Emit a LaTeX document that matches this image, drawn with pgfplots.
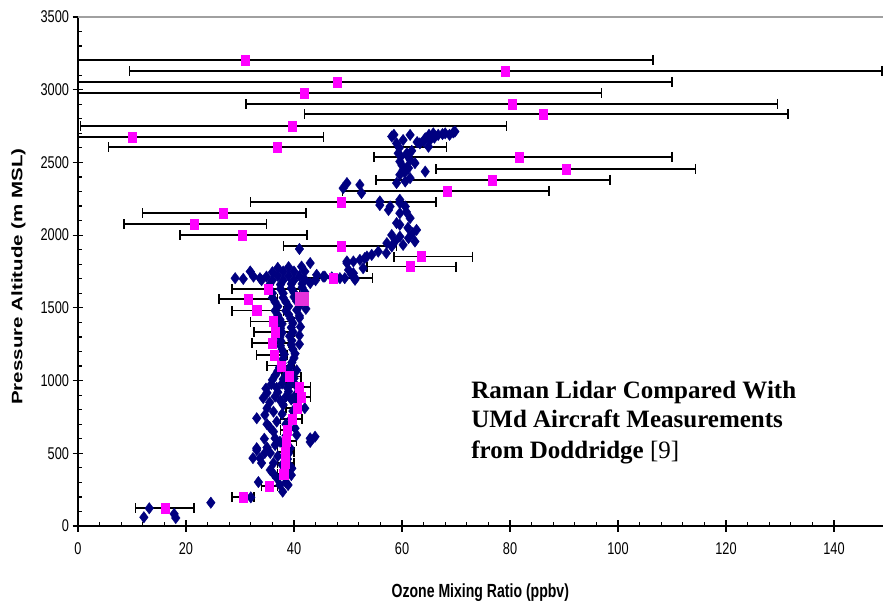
\documentclass[border=0pt]{standalone}
\usepackage{fontspec}
\setmainfont{Liberation Sans}
\newfontfamily\timesfont{Liberation Serif}
\usepackage{graphicx}
\usepackage{pgfplots}
\usepackage{pgfplotstable}
\pgfplotsset{compat=1.18}
\definecolor{navy}{RGB}{0,0,128}
\definecolor{mag}{RGB}{255,0,255}
\definecolor{mag2}{RGB}{230,50,220}
\definecolor{topgray}{RGB}{160,160,160}

\pgfplotstableread{
x y lo hi
30.9 3205 0 106.5
79.1 3129 9.6 148.9
48.0 3054 0 110.0
41.9 2978 0 96.9
80.4 2902 31.1 129.6
86.1 2834 42.0 131.5
39.6 2751 0.5 79.4
10.0 2675 0 45.5
36.9 2607 5.6 68.3
81.7 2538 54.8 110.0
90.4 2455 66.3 114.4
76.7 2380 55.2 98.5
68.3 2304 49.0 87.2
48.7 2228 31.9 66.3
26.9 2153 12.0 42.2
21.5 2077 8.5 34.9
30.4 2001 18.9 42.4
48.7 1926 38.1 59.0
63.5 1852 58.5 73.0
61.5 1783 53.5 70.0
47.2 1706 40.0 54.6
35.2 1630 28.5 41.0
31.5 1561 26.1 37.0
33.1 1481 28.5 38.0
36.1 1405 31.9 40.0
36.5 1334 32.6 40.0
35.9 1259 32.2 39.1
36.3 1176 33.0 38.7
37.6 1102 35.0 40.0
39.1 1027 37.8 41.3
40.9 956 38.5 43.1
41.3 887 38.5 43.1
40.6 812 38.5 42.0
39.6 736 37.5 41.5
38.7 660 37.5 40.5
38.5 585 37.0 40.5
38.3 509 37.0 40.0
38.3 433 37.0 40.0
38.1 358 37.0 39.5
35.4 275 34.0 37.0
30.6 199 28.5 32.6
16.1 124 10.7 21.5
}\lidar

\pgfplotstableread{
x y
12.2 60
13.2 122
17.8 83
18.1 55
24.6 160
32.0 197
37.9 236
33.4 302
37.4 282
38.9 282
36.8 330
35.6 385
36.1 364
39.6 397
39.3 406
32.4 467
33.7 466
34.0 433
36.2 433
33.1 522
35.6 502
34.6 502
39.3 535
33.1 535
36.5 557
37.4 580
43.0 578
43.0 603
43.9 614
36.5 603
40.5 626
36.2 649
40.2 672
36.8 718
33.1 741
34.6 764
36.2 786
42.0 810
38.0 832
38.5 300
39.5 350
37.8 420
38.8 460
37.0 480
39.0 500
35.0 540
38.0 560
34.5 600
38.5 620
35.5 680
38.5 700
39.5 740
35.0 700
37.8 770
39.8 790
35.0 810
40.5 850
35.5 850
37.5 860
39.5 870
34.3 880
36.5 890
38.5 890
40.3 900
35.0 915
37.0 920
39.0 925
34.8 945
36.8 950
38.8 950
40.5 960
35.8 975
37.8 980
39.5 985
36.0 1005
38.0 1010
40.0 1015
36.5 1035
38.5 1040
37.0 1065
39.0 1065
40.5 1070
37.3 1090
39.3 1095
37.8 1120
39.6 1125
38.0 1150
40.0 1155
38.2 1180
40.2 1185
37.8 1210
39.8 1215
37.5 1240
39.5 1245
41.0 1250
37.6 1270
39.6 1275
37.4 1300
39.2 1305
41.0 1310
37.8 1330
39.8 1335
37.5 1360
39.5 1365
41.2 1370
37.8 1390
39.8 1395
37.4 1420
39.4 1425
41.0 1430
37.0 1450
39.0 1455
41.0 1445
36.5 1480
38.5 1480
40.5 1485
42.2 1493
37.0 1510
39.0 1510
41.0 1515
36.5 1540
38.5 1540
40.5 1545
36.0 1570
38.0 1570
40.0 1575
36.0 1600
38.0 1600
40.0 1605
42.0 1610
35.5 1630
37.5 1630
39.5 1635
41.5 1640
35.5 1660
37.5 1660
39.5 1665
41.5 1665
43.0 1670
34.0 1690
36.0 1690
38.0 1690
40.0 1690
42.0 1695
44.0 1690
32.5 1715
34.9 1715
37.0 1720
39.0 1720
41.0 1720
45.4 1715
47.0 1710
49.4 1704
51.3 1693
29.1 1704
30.6 1699
33.7 1704
48.5 1704
44.2 1727
50.7 1727
31.9 1750
36.0 1745
38.0 1750
40.0 1750
42.0 1750
37.0 1775
39.0 1780
41.4 1784
43.0 1808
49.8 1808
51.0 1819
52.2 1830
53.5 1853
41.0 1905
55.9 2207
57.5 2173
59.6 2220
60.6 2197
59.6 2151
61.5 2117
59.6 2071
62.7 2036
58.1 2001
59.6 1990
61.2 1979
62.4 1956
60.2 1933
58.1 1922
57.1 1876
55.6 1887
54.4 1864
53.1 1842
49.8 1819
50.1 1761
51.0 1738
52.8 1773
45.7 1715
51.3 1704
59.0 2083
61.1 2050
62.0 2015
58.7 1956
57.2 1945
60.8 2160
69.5 2706
68.0 2700
66.7 2689
65.8 2700
65.2 2654
64.3 2666
63.3 2631
64.9 2608
58.1 2678
59.0 2631
60.2 2654
61.5 2689
59.3 2563
60.9 2563
59.6 2506
61.5 2518
62.4 2495
61.2 2461
59.6 2415
59.0 2358
61.5 2392
64.3 2437
49.8 2358
49.1 2323
52.2 2346
52.5 2289
55.9 2232
59.6 2243
57.8 2197
61.1 2541
60.2 2449
60.6 2369
62.8 2640
66.0 2670
67.5 2695
68.8 2690
69.8 2712
65.0 2690
64.0 2645
58.5 2690
59.5 2600
61.0 2470
60.0 2480
60.5 2430
59.8 2540
61.8 2580
}\aircraft

\begin{document}
\begin{tikzpicture}
\path[use as bounding box] (-78pt,-79pt) rectangle (805pt,526pt);
\begin{axis}[
  scale only axis, width=804.6pt, height=509pt,
  xmin=0, xmax=149, ymin=0, ymax=3500,
  axis x line*=bottom, axis y line*=left,
  axis line style={black, line width=1.3pt},
  xtick={0,20,...,140}, ytick={0,500,...,3500},
  minor x tick num=4, minor y tick num=4,
  tick align=center, major tick length=11pt, minor tick length=4pt,
  tick style={black, line width=1.2pt},
  minor x tick style={yshift=2pt}, minor y tick style={xshift=2pt},
  /pgf/number format/1000 sep={},
  /pgf/number format/assume math mode=true,
  xticklabel={\scalebox{0.75}[1]{\pgfmathprintnumber{\tick}}},
  yticklabel={\scalebox{0.75}[1]{\pgfmathprintnumber{\tick}}},
  ticklabel style={font=\fontsize{17}{17}\selectfont},
  xticklabel style={yshift=-8pt},
  xlabel={\scalebox{0.74}[1]{\bfseries Ozone Mixing Ratio (ppbv)}},
  ylabel={\scalebox{1}[0.74]{\bfseries Pressure Altitude (m MSL)}},
  xlabel style={font=\fontsize{19}{19}\selectfont, at={(axis description cs:0.5,-0.131)}, anchor=center},
  ylabel style={font=\fontsize{20.5}{20.5}\selectfont, at={(axis description cs:-0.074,0.49)}, anchor=center},
  clip=false,
]
\draw[topgray, line width=1.5pt] (rel axis cs:0,1) -- (rel axis cs:1,1);
\addplot[only marks, mark=none,
  error bars/.cd, x dir=both, x explicit,
  error mark=|,
  error bar style={black, line width=1.3pt},
  error mark options={black, mark size=5pt, line width=1.3pt}]
  table[x=x, y=y, x error plus expr=\thisrow{hi}-\thisrow{x}, x error minus expr=\thisrow{x}-\thisrow{lo}] {\lidar};
\addplot[only marks, mark=diamond*, mark size=5.7pt, color=navy] table[x=x,y=y] {\aircraft};
\addplot[only marks, mark=square*, mark size=5pt, mark options={xscale=0.82}, color=mag] table[x=x,y=y] {\lidar};
\addplot[only marks, mark=square*, mark size=6.5pt, color=mag2] coordinates {(41.5,1561)};
\node[anchor=base west, font=\timesfont\bfseries\fontsize{25}{25}\selectfont] at (axis cs:72.2,880) {Raman Lidar Compared With};
\node[anchor=base west, font=\timesfont\bfseries\fontsize{25}{25}\selectfont] at (axis cs:72.2,674) {UMd Aircraft Measurements};
\node[anchor=base west, font=\timesfont\bfseries\fontsize{25}{25}\selectfont] at (axis cs:72.2,461) {from Doddridge {\mdseries[9]}};
\end{axis}
\end{tikzpicture}
\end{document}
